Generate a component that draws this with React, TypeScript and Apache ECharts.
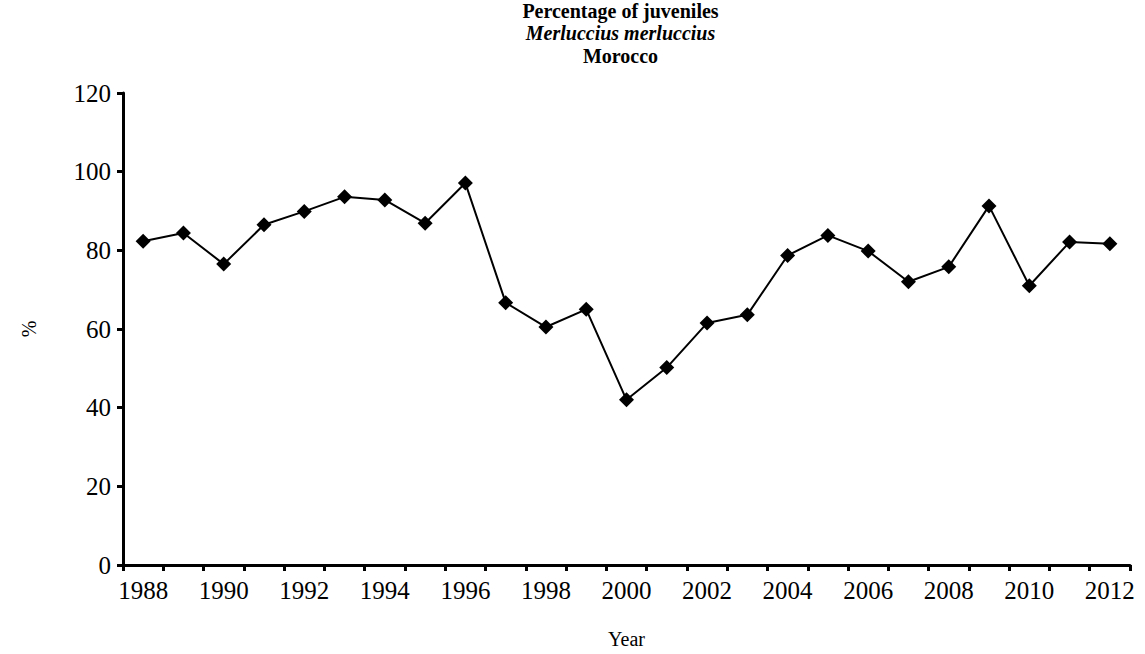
import React, { useEffect, useRef } from "react";
import * as echarts from "echarts";

const years = ["1988","1989","1990","1991","1992","1993","1994","1995","1996","1997","1998","1999","2000","2001","2002","2003","2004","2005","2006","2007","2008","2009","2010","2011","2012"];
const juveniles = [82.3, 84.4, 76.5, 86.5, 89.9, 93.6, 92.8, 86.9, 97.1, 66.7, 60.5, 65.0, 42.0, 50.2, 61.5, 63.6, 78.7, 83.8, 79.8, 72.0, 75.8, 91.3, 71.0, 82.1, 81.7];
const titleLines = ["Percentage of juveniles", "Merluccius merluccius", "Morocco"];
const yTicks = { min: 0, max: 120, interval: 20 };

const FONT = "Liberation Serif";

export default function App() {
  const ref = useRef<HTMLDivElement>(null);
  useEffect(() => {
    const chart = echarts.init(ref.current!, null, { renderer: "svg" });
    const gridLeft = 123, gridRight = 15, gridTop = 93, gridBottom = 80;
    const centerX = gridLeft + (1145 - gridLeft - gridRight) / 2;
    const tStyle = { fontFamily: FONT, fontWeight: "bold", fontSize: 20, lineHeight: 20, color: "#000" };
    chart.setOption({
      animation: false,
      backgroundColor: "#ffffff",
      title: [
        { text: titleLines[0], left: centerX - 6, top: 1, padding: 0, textAlign: "center", textStyle: tStyle },
        { text: titleLines[1], left: centerX - 6, top: 23.3, padding: 0, textAlign: "center", textStyle: { ...tStyle, fontStyle: "italic" } },
        { text: titleLines[2], left: centerX - 6, top: 45.6, padding: 0, textAlign: "center", textStyle: tStyle },
      ],
      grid: { left: gridLeft, right: gridRight, top: gridTop, bottom: gridBottom, containLabel: false },
      xAxis: {
        type: "category",
        data: years,
        boundaryGap: true,
        name: "Year",
        nameLocation: "middle",
        nameGap: 64,
        nameTextStyle: { fontFamily: FONT, fontSize: 20, color: "#000" },
        axisLine: { lineStyle: { color: "#000", width: 3 } },
        axisTick: { show: true, alignWithLabel: false, interval: 0, length: 6, lineStyle: { color: "#000", width: 3 } },
        axisLabel: { interval: 1, fontFamily: FONT, fontSize: 25, color: "#000", margin: 13 },
        splitLine: { show: false },
      },
      yAxis: {
        type: "value",
        min: yTicks.min,
        max: yTicks.max,
        interval: yTicks.interval,
        name: "%",
        nameLocation: "middle",
        nameGap: 84,
        nameRotate: 90,
        nameTextStyle: { fontFamily: FONT, fontSize: 20, color: "#000" },
        axisLine: { show: true, lineStyle: { color: "#000", width: 3 } },
        axisTick: { show: true, length: 6, lineStyle: { color: "#000", width: 3 } },
        axisLabel: { fontFamily: FONT, fontSize: 25, color: "#000", margin: 12 },
        splitLine: { show: false },
      },
      series: [
        {
          type: "line",
          data: juveniles,
          symbol: "diamond",
          symbolSize: 15,
          itemStyle: { color: "#000" },
          lineStyle: { color: "#000", width: 2 },
        },
      ],
    });
    return () => chart.dispose();
  }, []);
  return <div ref={ref} style={{ position: "fixed", left: 0, top: 0, width: 1145, height: 654 }} />;
}
